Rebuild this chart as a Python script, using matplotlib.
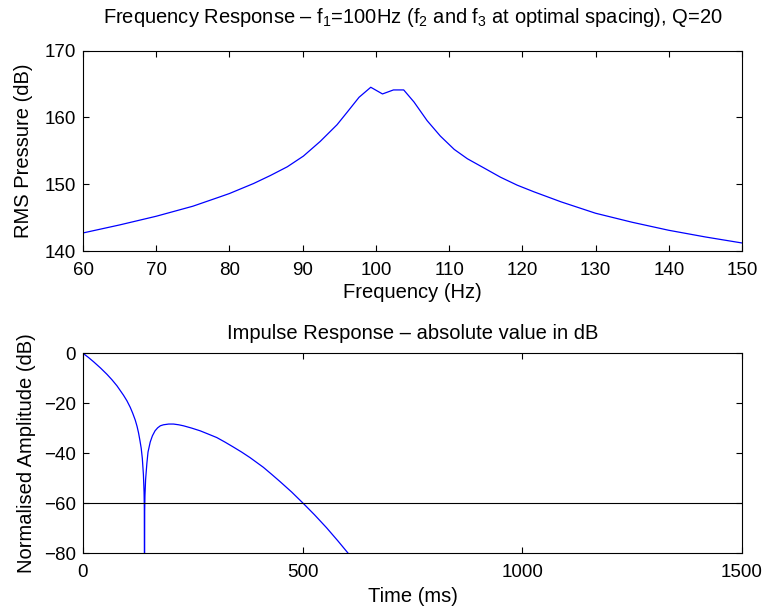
import matplotlib

matplotlib.use("Agg")
import matplotlib.pyplot as plt

plt.rcParams["font.family"] = ["Liberation Sans", "DejaVu Sans"]
plt.rcParams["mathtext.fontset"] = "custom"
plt.rcParams["mathtext.rm"] = "Liberation Sans"
plt.rcParams["mathtext.it"] = "Liberation Sans"
plt.rcParams["mathtext.default"] = "regular"

# frequency response
freq_hz = [60, 65, 70, 75, 78.7, 80, 83.3, 85.6, 87.9, 90.1, 92.4, 94.7, 96.1,
           97.7, 99.3, 100.9, 102.4, 103.8, 105.2, 107.0, 108.8, 110.7, 112.5,
           114.8, 117.0, 119.3, 121.6, 125.3, 130, 135, 140, 145, 150]
rms_db = [142.7, 143.9, 145.2, 146.7, 148.1, 148.6, 150.1, 151.3, 152.6,
          154.2, 156.4, 158.9, 160.8, 163.0, 164.5, 163.5, 164.1, 164.1,
          162.3, 159.5, 157.2, 155.2, 153.8, 152.4, 151.05, 149.85, 148.85,
          147.35, 145.65, 144.3, 143.1, 142.1, 141.2]

# impulse response magnitude (dB)
time_ms = [0, 12, 24.2, 40, 54.5, 66, 77.3, 92.3, 100, 107.5, 113, 118.9, 123,
           126.4, 129.5, 132.5, 135, 137.5, 139, 139.6, 140, 140.4, 141, 142.5,
           145.4, 148, 153, 158, 164, 170, 176, 183, 195, 206, 218, 228.7, 247,
           266.6, 285, 304.5, 323, 342.3, 361, 380, 410.5, 430, 448.4, 475, 500,
           527, 554.5, 580, 603.6, 620]
amp_db = [0, -1.6, -3.4, -5.9, -8.4, -10.6, -13.0, -16.8, -19.0, -21.6, -23.9,
          -26.7, -29.2, -31.8, -34.8, -38.0, -42.0, -48.5, -55.5, -62, -110,
          -63, -57, -50.5, -44, -39.5, -35.5, -33, -31.0, -29.8, -29.0, -28.6,
          -28.3, -28.3, -28.6, -29.0, -29.9, -31.0, -32.3, -33.7, -35.5, -37.5,
          -39.5, -41.7, -45.6, -48.5, -51.3, -55.5, -59.8, -64.6, -69.8, -75.0,
          -80, -83.6]

fig = plt.figure(figsize=(7.68, 6.09), dpi=100)
ax1 = fig.add_axes([83 / 768, 1 - 251 / 609, 659 / 768, 200.5 / 609])
ax2 = fig.add_axes([83 / 768, 1 - 553.3 / 609, 659 / 768, 200 / 609])

for ax in (ax1, ax2):
    ax.tick_params(direction="in", top=True, right=True, length=4, width=0.8,
                   labelsize=13.5)
    ax.tick_params(axis="x", pad=8)
    ax.tick_params(axis="y", pad=5)
    for s in ax.spines.values():
        s.set_linewidth(0.8)

ax1.plot(freq_hz, rms_db, color="#0000ff", linewidth=0.9)
ax1.set_xlim(60, 150)
ax1.set_ylim(140, 170)
ax1.set_xticks(range(60, 151, 10))
ax1.set_yticks(range(140, 171, 10))
ax1.set_xlabel("Frequency (Hz)", fontsize=14.5, labelpad=3)
ax1.set_ylabel("RMS Pressure (dB)", fontsize=14.5, labelpad=8.5)
ax1.set_title("Frequency Response \u2013 f$_1$=100Hz (f$_2$ and f$_3$ at optimal spacing), Q=20",
              fontsize=14.5, pad=20)

ax2.plot(time_ms, amp_db, color="#0000ff", linewidth=0.9)
ax2.axhline(-60, color="black", linewidth=0.8)
ax2.set_xlim(0, 1500)
ax2.set_ylim(-80, 0)
ax2.set_xticks([0, 500, 1000, 1500])
ax2.set_yticks(range(-80, 1, 20))
ax2.set_xlabel("Time (ms)", fontsize=14.5, labelpad=4)
ax2.set_ylabel("Normalised Amplitude (dB)", fontsize=14.5, labelpad=6)
ax2.set_title("Impulse Response \u2013 absolute value in dB", fontsize=14.5, pad=10.5)

fig.savefig("out.png", dpi=100)
